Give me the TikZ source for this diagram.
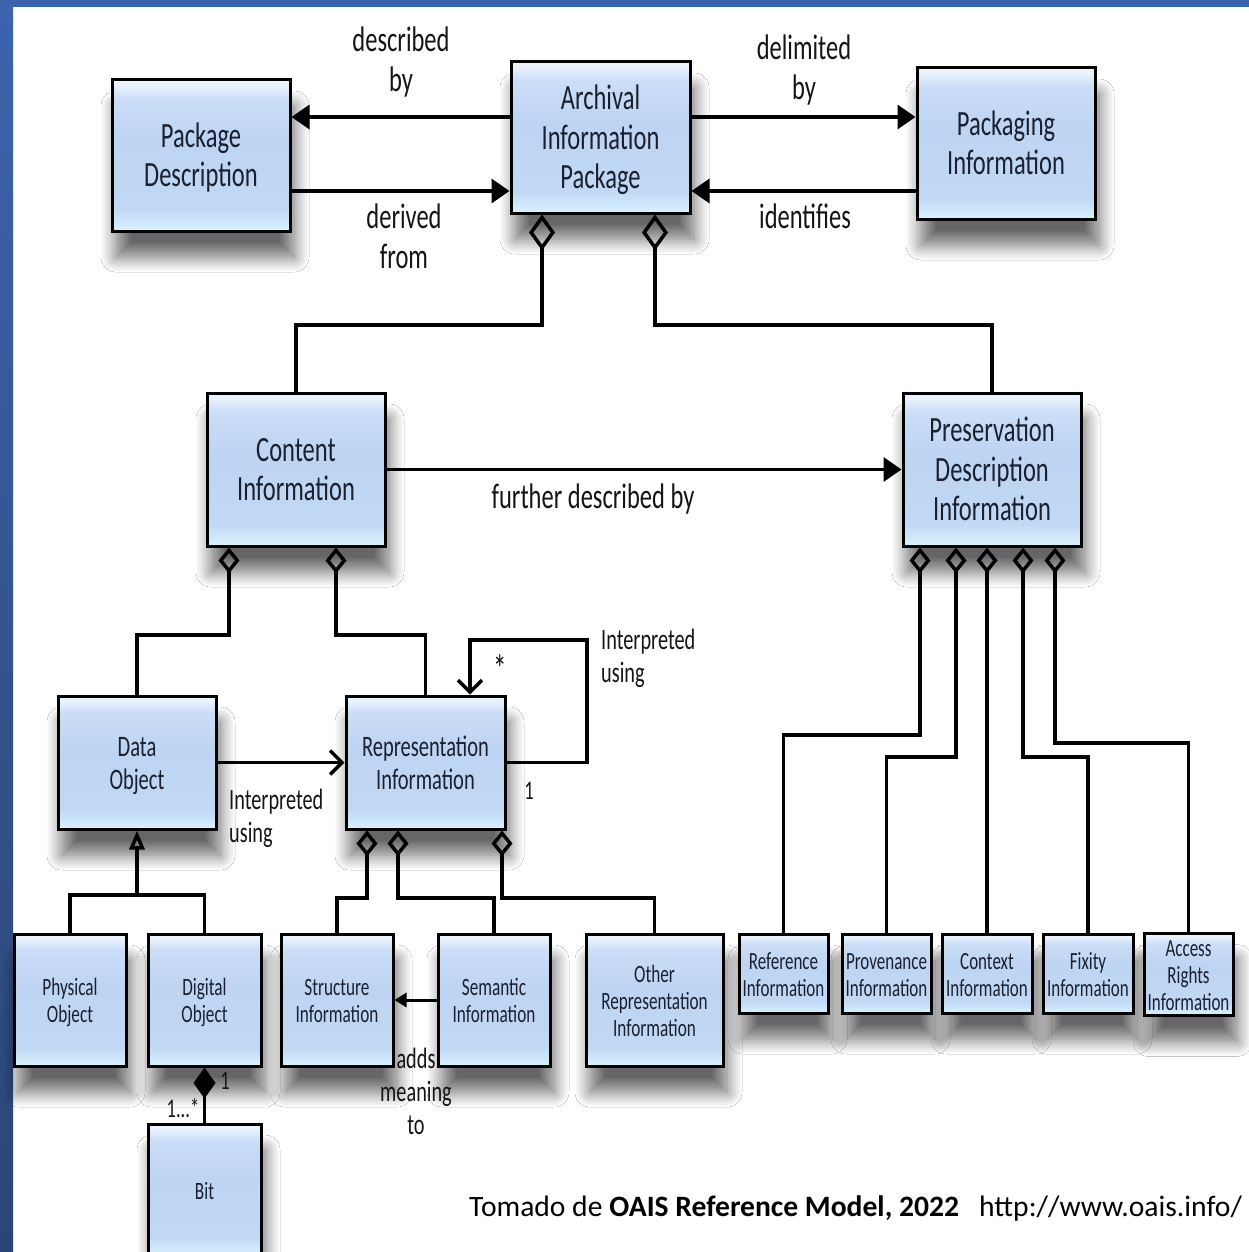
\documentclass[tikz,border=0pt]{standalone}
\usepackage{fontspec}
\setmainfont{Carlito}
\usepackage{graphicx}
\usetikzlibrary{arrows.meta,shadows.blur}
\definecolor{txt}{HTML}{1A2030}
\definecolor{labc}{HTML}{151515}
\definecolor{frameA}{HTML}{3C63AE}
\definecolor{frameB}{HTML}{2B4674}
\pgfdeclareverticalshading{boxshade}{100bp}{rgb(0bp)=(0.86,0.95,0.99); rgb(25bp)=(0.86,0.95,0.99); rgb(28.5bp)=(0.80,0.90,0.98); rgb(32bp)=(0.76,0.85,0.96); rgb(55bp)=(0.74,0.83,0.95); rgb(69bp)=(0.80,0.87,0.97); rgb(72.5bp)=(0.90,0.94,0.99); rgb(75bp)=(0.94,0.96,0.99); rgb(100bp)=(0.94,0.96,0.99)}
\newcommand{\bt}[1]{\scalebox{1}[1.45]{\raisebox{-2.6pt}[\height][\depth]{\begin{tabular}{@{}c@{}}#1\end{tabular}}}}
\newcommand{\lt}[1]{\scalebox{1}[1.45]{\raisebox{-2.6pt}[\height][\depth]{\begin{tabular}{@{}l@{}}#1\end{tabular}}}}
\tikzset{
  box/.style={draw=black, line width=3pt, shading=boxshade, inner sep=0pt, text=txt,
    blur shadow={shadow xshift=4pt, shadow yshift=-26pt, shadow blur radius=15pt, shadow blur steps=14, shadow opacity=60}},
  bigbox/.style={box, minimum width=178pt, minimum height=151pt, font=\fontsize{24.5}{27}\selectfont},
  midbox/.style={box, minimum width=158pt, minimum height=133pt, font=\fontsize{20.5}{22.8}\selectfont},
  smallbox/.style={box, minimum width=112pt, minimum height=132pt, font=\fontsize{17.2}{18.6}\selectfont},
  tinybox/.style={box, minimum width=89pt, minimum height=79pt, font=\fontsize{17}{18.8}\selectfont},
  lab/.style={inner sep=0pt, text=labc, font=\fontsize{24.5}{27.5}\selectfont},
  midlab/.style={inner sep=0pt, text=labc, font=\fontsize{20.3}{22.8}\selectfont},
  numlab/.style={inner sep=0pt, text=labc, font=\fontsize{18.5}{20}\selectfont},
  conn/.style={draw=black, line width=3.5pt},
  arr/.style={conn, -{Triangle[length=18pt,width=24pt]}},
  vee/.style={conn, -{Straight Barb[length=12pt,width=24pt]}},
  aggA/.style={conn, {Diamond[open,length=36pt,width=26pt]}-},
  agg/.style={conn, {Diamond[open,length=26pt,width=21pt]}-},
  comp/.style={conn, {Diamond[length=31pt,width=22pt]}-},
  gen/.style={conn, {Triangle[open,length=19pt,width=15pt]}-},
}
\begin{document}
\begin{tikzpicture}[x=1pt,y=-1pt]
\clip (0,0) rectangle (1249,1252);
\useasboundingbox (0,0) rectangle (1249,1252);
\fill[white] (0,0) rectangle (1249,1252);
\fill[frameA] (0,0) rectangle (1249,7);
\shade[top color=frameA, bottom color=frameB] (0,0) rectangle (13,1252);

% ---- boxes ----
\node[bigbox] (pd)  at (201,155.5)  {\bt{Package\\Description}};
\node[bigbox, minimum width=179pt] (aip) at (600.5,137.5) {\bt{Archival\\Information\\Package}};
\node[bigbox] (pi)  at (1006,143.5) {\bt{Packaging\\Information}};
\node[bigbox, minimum height=153pt] (ci)  at (296,469.5)  {\bt{Content\\Information}};
\node[bigbox, minimum height=153pt] (pdi) at (992,469.5)  {\bt{Preservation\\Description\\Information}};
\node[midbox] (do) at (137,762.5)   {\bt{Data\\Object}};
\node[midbox, minimum width=159pt] (ri) at (425.5,762.5) {\bt{Representation\\Information}};
\node[smallbox] (po)  at (70,1000)    {\bt{Physical\\Object}};
\node[smallbox, minimum width=113pt] (dig) at (204.5,1000) {\bt{Digital\\Object}};
\node[smallbox] (si)  at (337,1000)   {\bt{Structure\\Information}};
\node[smallbox] (sem) at (494,1000)   {\bt{Semantic\\Information}};
\node[smallbox, minimum width=137pt] (ori) at (654.5,1000) {\bt{Other\\Representation\\Information}};
\node[smallbox, minimum width=113pt] (bit) at (204.5,1190) {\bt{Bit}};
\node[tinybox] (ref)  at (783.5,973.5) {\bt{Reference\\Information}};
\node[tinybox] (prov) at (886.5,973.5) {\bt{Provenance\\Information}};
\node[tinybox, minimum width=90pt] (ctx) at (987,973.5) {\bt{Context\\Information}};
\node[tinybox, minimum width=90pt] (fix) at (1088,973.5) {\bt{Fixity\\Information}};
\node[tinybox, minimum height=81pt] (acc) at (1188.5,974.5) {\bt{Access\\Rights\\Information}};

% ---- top arrows ----
\coordinate (aw1) at ([yshift=20.5pt]aip.west);
\coordinate (aw2) at ([yshift=-53.5pt]aip.west);
\coordinate (ae1) at ([yshift=20.5pt]aip.east);
\coordinate (ae2) at ([yshift=-53.5pt]aip.east);
\draw[arr] (aw1) -- (aw1 -| pd.east);
\draw[arr] (aw2 -| pd.east) -- (aw2);
\draw[arr] (ae1) -- (ae1 -| pi.west);
\draw[arr] (ae2 -| pi.west) -- (ae2);

% ---- AIP aggregation ----
\draw[aggA] ([xshift=32.5pt]aip.south west) -- ++(0,110.5) -| (ci.north);
\draw[aggA] ([xshift=145.5pt]aip.south west) -- ++(0,110.5) -| (pdi.north);

% ---- content information ----
\draw[arr] (ci.east) -- (pdi.west);
\draw[agg] ([xshift=23.5pt]ci.south west) -- ++(0,87.5) -| (do.north);
\draw[agg] ([xshift=130.5pt]ci.south west) -- ++(0,87.5) -| (ri.north);

% ---- data object / representation ----
\draw[vee] (do.east) -- (ri.west);
\coordinate (lp) at (587,640);
\draw[vee] (ri.east) -| (lp) -| ([xshift=125.5pt]ri.north west);
\draw[agg] ([xshift=22.5pt]ri.south west) -- ++(0,67.5) -| (si.north);
\draw[agg] ([xshift=53.5pt]ri.south west) -- ++(0,67.5) -| (sem.north);
\draw[agg] ([xshift=157.5pt]ri.south west) -- ++(0,67.5) -| (ori.north);
\draw[gen] (do.south) -- ++(0,64.5) coordinate (gj);
\draw[conn] (po.north) |- (gj) -| (dig.north);
\draw[conn, line width=3pt, -{Triangle[length=12pt,width=14pt]}] (sem.west) -- (si.east);
\draw[comp] (dig.south) -- (bit.north);

% ---- PDI aggregation ----
\draw[agg] ([xshift=18.5pt]pdi.south west) -- ++(0,187.5) -| (ref.north);
\draw[agg] ([xshift=54.5pt]pdi.south west) -- ++(0,209.5) -| (prov.north);
\draw[agg] (ctx.north |- pdi.south) -- (ctx.north);
\draw[agg] ([xshift=121.5pt]pdi.south west) -- ++(0,209.5) -| (fix.north);
\draw[agg] ([xshift=153.5pt]pdi.south west) -- ++(0,195.5) -| (acc.north);

% ---- labels ----
\node[lab] (l1) at (401,60)   {\bt{described\\by}};
\node[lab] (l2) at (404,237)  {\bt{derived\\from}};
\node[lab] (l3) at (804,67.5) {\bt{delimited\\by}};
\node[lab] (l4) at (805,217)  {\bt{identifies}};
\node[lab] (l5) at (593,497)  {\bt{further described by}};
\node[midlab, anchor=west] (l6) at (229,815.5) {\lt{Interpreted\\using}};
\node[midlab, anchor=west] (l7) at (601,656)   {\lt{Interpreted\\using}};
\node[midlab] (l8) at (416,1091.5) {\bt{adds\\meaning\\to}};
\node[numlab, font=\fontsize{27}{29}\selectfont] (n1) at (500,670)  {\bt{*}};
\node[numlab] (n2) at (529,790)  {\bt{1}};
\node[numlab] (n3) at (225,1080) {\bt{1}};
\node[numlab] (n4) at (183,1108) {\bt{1...*}};
\node[inner sep=0pt, anchor=west, text=black, font=\fontsize{29.6}{34}\selectfont] (cap) at (469,1208)
  {Tomado de \textbf{OAIS Reference Model, 2022}\hspace{0.45em} http://www.oais.info/};
\end{tikzpicture}
\end{document}
